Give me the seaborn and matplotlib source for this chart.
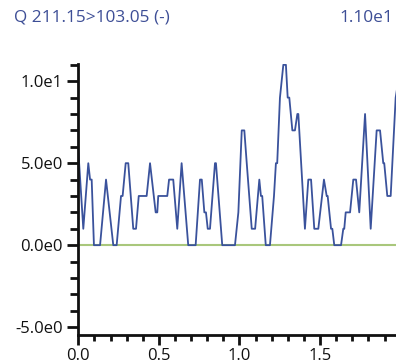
import matplotlib
matplotlib.use("Agg")
import matplotlib.pyplot as plt
import seaborn as sns
import pandas as pd
from matplotlib.ticker import MultipleLocator, FixedLocator

# ---- data ----
title_left = "Q 211.15>103.05 (-)"
title_right = "1.10e1"
times = [0.000, 0.031, 0.062, 0.073, 0.083, 0.097, 0.135, 0.172, 0.217, 0.238,
         0.265, 0.275, 0.294, 0.310, 0.341, 0.358, 0.375, 0.424, 0.445, 0.480,
         0.490, 0.496, 0.552, 0.563, 0.589, 0.614, 0.641, 0.682, 0.728, 0.755,
         0.766, 0.782, 0.792, 0.803, 0.817, 0.848, 0.854, 0.893, 0.972, 0.993,
         1.014, 1.030, 1.045, 1.076, 1.097, 1.123, 1.133, 1.141, 1.163, 1.189,
         1.214, 1.226, 1.234, 1.251, 1.272, 1.288, 1.299, 1.309, 1.328, 1.344,
         1.359, 1.365, 1.406, 1.427, 1.444, 1.464, 1.489, 1.524, 1.541, 1.547,
         1.568, 1.576, 1.588, 1.630, 1.644, 1.650, 1.659, 1.686, 1.706, 1.723,
         1.743, 1.779, 1.814, 1.851, 1.872, 1.892, 1.898, 1.917, 1.938, 1.969,
         1.985]
intensity = [5.8, 1, 5, 4, 4, 0, 0, 4, 0, 0,
             3, 3, 5, 5, 1, 1, 3, 3, 5, 2,
             2, 3, 3, 4, 4, 1, 5, 0, 0, 4,
             4, 2, 2, 1, 1, 5, 5, 0, 0, 2,
             7, 7, 5, 1, 1, 4, 3, 3, 0, 0,
             3, 5, 5, 9, 11, 11, 9, 9, 7, 7,
             8, 8, 1, 4, 4, 1, 1, 4, 3, 3,
             1, 1, 0, 0, 1, 1, 2, 2, 4, 4,
             2, 8, 1, 7, 7, 5, 5, 3, 3, 9,
             10]
baseline_x = [0.0, 2.0]
baseline_y = [0.0, 0.0]
xtick_values = [0.0, 0.5, 1.0, 1.5]
xtick_labels = ["0.0", "0.5", "1.0", "1.5"]
ytick_values = [-5.0, 0.0, 5.0, 10.0]
ytick_labels = ["-5.0e0", "0.0e0", "5.0e0", "1.0e1"]

df = pd.DataFrame({"time": times, "intensity": intensity})
base = pd.DataFrame({"time": baseline_x, "intensity": baseline_y})

sns.set_style("ticks")
plt.rcParams['font.family'] = ['Open Sans', 'DejaVu Sans']

fig = plt.figure(figsize=(3.96, 3.63), dpi=100)
ax = fig.add_axes([78.3 / 396, 0.0771, (396 - 78.3) / 396, 0.7466])

sns.lineplot(data=base, x="time", y="intensity", ax=ax, color="#a9c77c", linewidth=1.5)
sns.lineplot(data=df, x="time", y="intensity", ax=ax, color="#3a529c", linewidth=1.3)

ax.set_xlim(0.0, 1.971)
ax.set_ylim(-5.48, 11.05)

ax.xaxis.set_major_locator(FixedLocator(xtick_values))
ax.set_xticklabels(xtick_labels)
ax.xaxis.set_minor_locator(MultipleLocator(0.1))
ax.yaxis.set_major_locator(FixedLocator(ytick_values))
ax.set_yticklabels(ytick_labels)
ax.yaxis.set_minor_locator(MultipleLocator(1.0))

ax.set_xlabel("")
ax.set_ylabel("")
for s in ["top", "right"]:
    ax.spines[s].set_visible(False)
for s in ["left", "bottom"]:
    ax.spines[s].set_linewidth(2.0)
    ax.spines[s].set_color("#111111")

ax.tick_params(axis="y", which="major", length=8, width=2, color="#111111",
               labelsize=12, labelcolor="#111111", pad=3)
ax.tick_params(axis="y", which="minor", length=6, width=2, color="#111111")
ax.tick_params(axis="x", which="major", length=7, width=2, color="#111111",
               labelsize=12, labelcolor="#111111", pad=2)
ax.tick_params(axis="x", which="minor", length=4, width=2, color="#111111")

fig.text(14 / 396, 1 - 18 / 363, title_left, ha="left", va="center",
         fontsize=12.4, color="#3d4e96")
fig.text(393 / 396, 1 - 18 / 363, title_right, ha="right", va="center",
         fontsize=12.4, color="#3d4e96")

fig.savefig("out.png", dpi=100)
